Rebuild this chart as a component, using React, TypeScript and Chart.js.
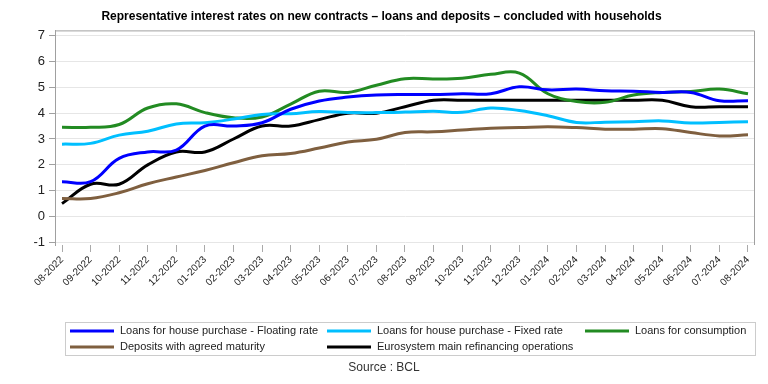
import React, { useEffect, useRef } from "react";
import { Chart, registerables } from "chart.js";

Chart.register(...registerables);

const months = [
  "08-2022", "09-2022", "10-2022", "11-2022", "12-2022", "01-2023", "02-2023", "03-2023",
  "04-2023", "05-2023", "06-2023", "07-2023", "08-2023", "09-2023", "10-2023", "11-2023",
  "12-2023", "01-2024", "02-2024", "03-2024", "04-2024", "05-2024", "06-2024", "07-2024", "08-2024",
];

const floatingRate = [1.35, 1.35, 2.25, 2.5, 2.57, 3.5, 3.5, 3.63, 4.15, 4.47, 4.62, 4.7, 4.72, 4.72, 4.75, 4.75, 5.02, 4.9, 4.93, 4.87, 4.85, 4.8, 4.8, 4.48, 4.48];
const fixedRate = [2.8, 2.83, 3.15, 3.3, 3.58, 3.63, 3.77, 3.95, 3.98, 4.06, 4.02, 4.02, 4.04, 4.07, 4.03, 4.2, 4.1, 3.9, 3.64, 3.65, 3.67, 3.7, 3.62, 3.64, 3.67];
const consumption = [3.45, 3.45, 3.56, 4.2, 4.36, 4.02, 3.82, 3.85, 4.35, 4.85, 4.8, 5.08, 5.33, 5.32, 5.35, 5.5, 5.55, 4.75, 4.45, 4.42, 4.7, 4.8, 4.84, 4.93, 4.75];
const deposits = [0.7, 0.7, 0.92, 1.27, 1.53, 1.78, 2.08, 2.35, 2.44, 2.65, 2.88, 2.99, 3.25, 3.28, 3.35, 3.42, 3.44, 3.47, 3.44, 3.38, 3.38, 3.4, 3.25, 3.12, 3.16];
const mro = [0.5, 1.25, 1.25, 2.0, 2.5, 2.5, 3.0, 3.5, 3.5, 3.75, 4.0, 4.0, 4.25, 4.5, 4.5, 4.5, 4.5, 4.5, 4.5, 4.5, 4.5, 4.5, 4.25, 4.25, 4.25];

const seriesNames = [
  "Loans for house purchase - Floating rate",
  "Loans for house purchase - Fixed rate",
  "Loans for consumption",
  "Deposits with agreed maturity",
  "Eurosystem main refinancing operations",
];
const seriesColors = ["#0000ff", "#00bfff", "#228b22", "#7f5f3f", "#000000"];
const seriesValues = [floatingRate, fixedRate, consumption, deposits, mro];

const titleText = "Representative interest rates on new contracts – loans and deposits – concluded with households";
const sourceText = "Source : BCL";
const FONT = "'Liberation Sans', Arial, sans-serif";

const legendPlugin = {
  id: "customLegendFrame",
  afterDraw(chart: any) {
    const ctx = chart.ctx;
    const a = chart.chartArea;
    ctx.save();
    // frame (left, top, right)
    ctx.strokeStyle = "#a0a0a0";
    ctx.lineWidth = 1;
    ctx.beginPath();
    ctx.moveTo(a.left + 0.5, a.bottom);
    ctx.lineTo(a.left + 0.5, a.top + 0.5);
    ctx.lineTo(a.right - 0.5, a.top + 0.5);
    ctx.lineTo(a.right - 0.5, a.bottom);
    ctx.stroke();

    // legend box
    ctx.strokeStyle = "#cccccc";
    ctx.strokeRect(65.5, 322.5, 690, 33);
    const cols = [70, 327, 585];
    const rows = [331, 347];
    ctx.font = `11px ${FONT}`;
    ctx.textBaseline = "middle";
    ctx.textAlign = "left";
    seriesNames.forEach((name, i) => {
      const x = cols[i % 3];
      const y = rows[Math.floor(i / 3)];
      ctx.strokeStyle = seriesColors[i];
      ctx.lineWidth = 3;
      ctx.beginPath();
      ctx.moveTo(x, y);
      ctx.lineTo(x + 44, y);
      ctx.stroke();
      ctx.fillStyle = "#222222";
      ctx.fillText(name, x + 50, y);
    });

    // source
    ctx.font = `12px ${FONT}`;
    ctx.textAlign = "center";
    ctx.fillStyle = "#333333";
    ctx.fillText(sourceText, 384, 368);
    ctx.restore();
  },
};

export default function App() {
  const canvasRef = useRef<HTMLCanvasElement | null>(null);

  useEffect(() => {
    document.body.style.margin = "0";
    const canvas = canvasRef.current;
    if (!canvas) return;
    const chart = new Chart(canvas, {
      type: "line",
      data: {
        datasets: seriesNames.map((name, i) => ({
          label: name,
          data: seriesValues[i].map((v, j) => ({ x: j, y: v })),
          borderColor: seriesColors[i],
          backgroundColor: seriesColors[i],
          borderWidth: 3,
          pointRadius: 0,
          tension: 0.4,
          fill: false,
        })),
      },
      options: {
        responsive: false,
        animation: false,
        layout: { padding: { left: 8, right: 13, top: 0, bottom: 92 } },
        plugins: {
          legend: { display: false },
          tooltip: { enabled: false },
          title: {
            display: true,
            text: titleText,
            color: "#000000",
            font: { family: FONT, size: 12, weight: "bold" },
            padding: { top: 9, bottom: 7 },
          },
        },
        scales: {
          x: {
            type: "linear",
            min: -0.245,
            max: 24.245,
            afterFit(scale: any) {
              scale.height = 47;
              scale.paddingLeft = 0;
              scale.paddingRight = 0;
            },
            afterBuildTicks(scale: any) {
              scale.ticks = months.map((_, i) => ({ value: i }));
            },
            ticks: {
              autoSkip: false,
              minRotation: 45,
              maxRotation: 45,
              padding: 2,
              color: "#222222",
              font: { family: FONT, size: 10 },
              callback: (v: any) => months[v] ?? "",
            },
            grid: {
              drawOnChartArea: false,
              drawTicks: true,
              tickLength: 7,
              tickColor: "#aaaaaa",
            },
            border: { display: false },
          },
          y: {
            min: -1.1,
            max: 7.2,
            afterFit(scale: any) {
              scale.width = 47;
            },
            ticks: {
              stepSize: 1,
              includeBounds: false,
              padding: 4,
              color: "#222222",
              font: { family: FONT, size: 13 },
            },
            grid: {
              color: "#e6e6e6",
              tickLength: 6,
              tickColor: "#a0a0a0",
            },
            border: { display: true, color: "#a0a0a0" },
          },
        },
      },
      plugins: [legendPlugin],
    });
    return () => chart.destroy();
  }, []);

  return (
    <div style={{ width: 768, height: 384, position: "relative", background: "#ffffff" }}>
      <canvas ref={canvasRef} width={768} height={384} />
    </div>
  );
}
